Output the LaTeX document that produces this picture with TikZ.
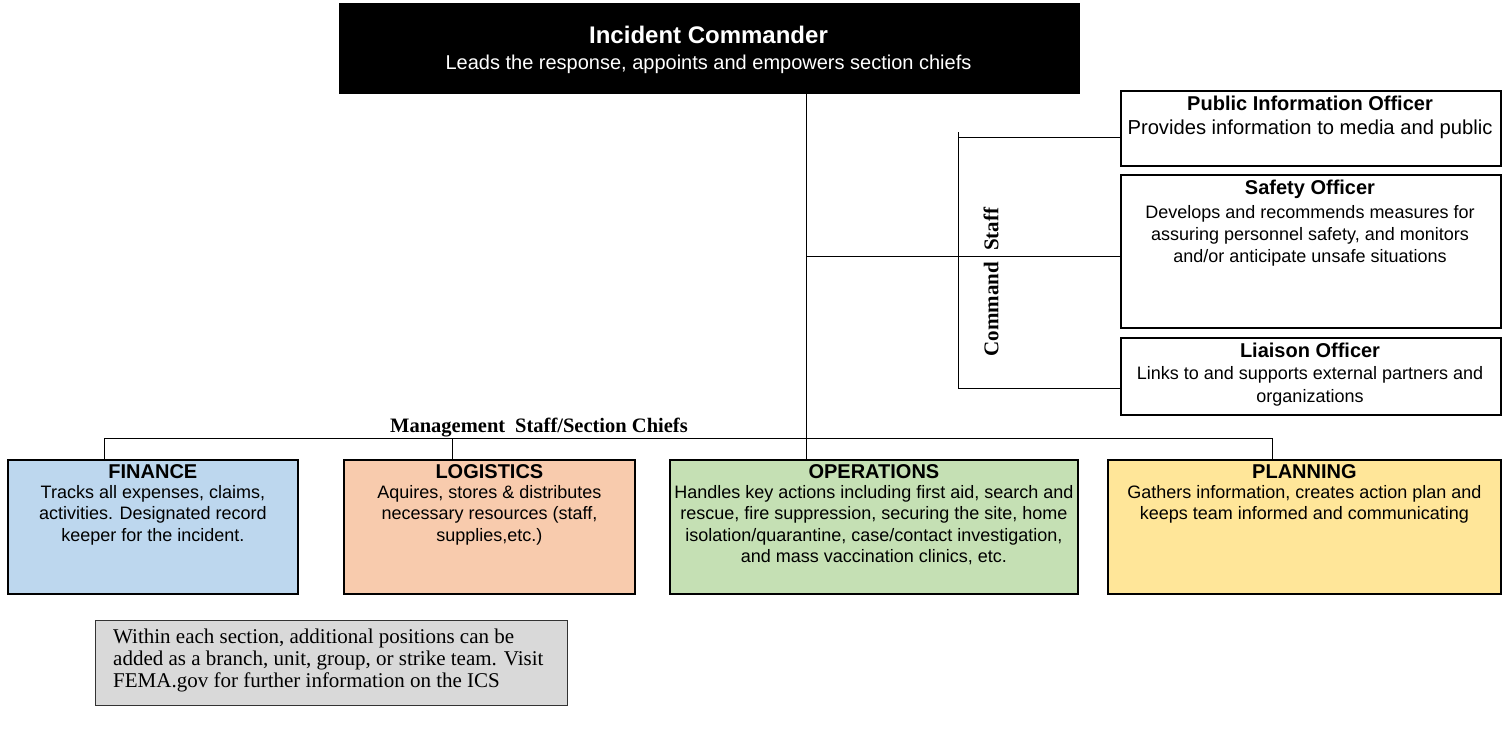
\documentclass[tikz,border=0pt]{standalone}
\usepackage{fontspec}
\setmainfont{Liberation Serif}
\newfontfamily\arial{Liberation Sans}
\definecolor{finc}{HTML}{BDD7EE}
\definecolor{logc}{HTML}{F8CBAD}
\definecolor{opsc}{HTML}{C5E0B4}
\definecolor{plac}{HTML}{FFE699}
\definecolor{notec}{HTML}{D9D9D9}
\begin{document}
\begin{tikzpicture}[x=1pt,y=-1pt,
  box/.style={draw=black, line width=1.8pt, inner sep=0pt, anchor=north west},
  conn/.style={draw=black, line width=1pt},
  ttl/.style={font=\arial\bfseries\fontsize{20}{24}\selectfont, anchor=base, inner sep=0pt},
  bodytext/.style={font=\arial\fontsize{18}{21.5}\selectfont, align=center, anchor=north, inner sep=0pt},
  lbl/.style={font=\bfseries\fontsize{20.5}{24}\selectfont, inner sep=0pt},
]
\useasboundingbox (0,0) rectangle (1504,729);

% Incident commander
\node[box, fill=black, minimum width=739pt, minimum height=89pt] (cmd) at (339,3) {};
\node[font=\arial\bfseries\fontsize{24}{28}\selectfont, text=white, anchor=base, inner sep=0pt] (cmdT) at (708.5,43.5) {Incident Commander};
\node[font=\arial\fontsize{20}{24}\selectfont, text=white, anchor=base, inner sep=0pt] (cmdB) at (708.5,69) {Leads the response, appoints and empowers section chiefs};

% Command staff boxes
\node[box, minimum width=380pt, minimum height=75pt] (pio) at (1120,90) {};
\node[ttl] (pioT) at (1310,110) {Public Information Officer};
\node[font=\arial\fontsize{20.2}{24}\selectfont, anchor=base, inner sep=0pt] (pioB) at (1310,134) {Provides information to media and public};

\node[box, minimum width=380pt, minimum height=153pt] (saf) at (1120,174) {};
\node[ttl] (safT) at (1310,194) {Safety Officer};
\node[bodytext, font=\arial\fontsize{18}{22}\selectfont] (safB) at (1310,205) {Develops and recommends measures for\\assuring personnel safety, and monitors\\and/or anticipate unsafe situations};

\node[box, minimum width=380pt, minimum height=77pt] (lia) at (1120,337) {};
\node[ttl] (liaT) at (1310,357) {Liaison Officer};
\node[bodytext, font=\arial\fontsize{18}{23}\selectfont] (liaB) at (1310,366) {Links to and supports external partners and\\organizations};

% Section boxes
\node[box, fill=finc, minimum width=290pt, minimum height=134pt] (fin) at (7,459) {};
\node[ttl] (finT) at (fin.north |- 0,478) {FINANCE};
\node[bodytext] (finB) at (fin.north |- 0,485) {Tracks all expenses, claims,\\activities. Designated record\\keeper for the incident.};

\node[box, fill=logc, minimum width=291pt, minimum height=134pt] (log) at (343,459) {};
\node[ttl] (logT) at (log.north |- 0,478) {LOGISTICS};
\node[bodytext] (logB) at (log.north |- 0,485) {Aquires, stores \& distributes\\necessary resources (staff,\\supplies,etc.)};

\node[box, fill=opsc, minimum width=408pt, minimum height=134pt] (ops) at (669,459) {};
\node[ttl] (opsT) at (ops.north |- 0,478) {OPERATIONS};
\node[bodytext] (opsB) at (ops.north |- 0,485) {Handles key actions including first aid, search and\\rescue, fire suppression, securing the site, home\\isolation/quarantine, case/contact investigation,\\and mass vaccination clinics, etc.};

\node[box, fill=plac, minimum width=393pt, minimum height=134pt] (pla) at (1107,459) {};
\node[ttl] (plaT) at (pla.north |- 0,478) {PLANNING};
\node[bodytext] (plaB) at (pla.north |- 0,485) {Gathers information, creates action plan and\\keeps team informed and communicating};

% Note
\node[draw=black!80, line width=1pt, fill=notec, minimum width=472pt, minimum height=85pt, inner sep=0pt, anchor=north west] (note) at (95,620) {};
\node[font=\fontsize{21}{22}\selectfont, align=left, anchor=north west, inner sep=0pt] (noteT) at (113,629) {Within each section, additional positions can be\\added as a branch, unit, group, or strike team. Visit\\FEMA.gov for further information on the ICS};

% Labels
\node[lbl, anchor=base] (mgmt) at (539,432) {Management\hspace{10pt}Staff/Section Chiefs};
\node[lbl, font=\bfseries\fontsize{21}{24}\selectfont, rotate=90, anchor=center] (cstaff) at (991,282) {Command\hspace{11pt}Staff};

% Connectors
\coordinate (cmdJ) at (806,92);
\coordinate (finJ) at (104,438);
\coordinate (logJ) at (452,438);
\coordinate (plaJ) at (1272,438);
\coordinate (safJ) at (806,256);
\coordinate (csTop) at (958,132);
\coordinate (csPio) at (958,137);
\coordinate (csLia) at (958,388);

\draw[conn] (cmdJ) -- (cmdJ |- ops.north);
\draw[conn] (finJ |- fin.north) -- (finJ) -- (plaJ) -- (plaJ |- pla.north);
\draw[conn] (logJ) -- (logJ |- log.north);
\draw[conn] (safJ) -- (safJ -| saf.west);
\draw[conn] (csTop) -- (csLia) -- (csLia -| lia.west);
\draw[conn] (csPio) -- (csPio -| pio.west);
\end{tikzpicture}
\end{document}
